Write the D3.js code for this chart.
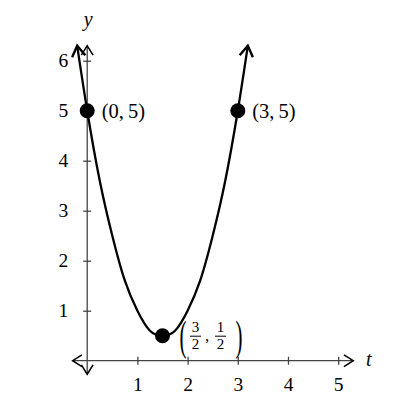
<!DOCTYPE html>
<html lang="en">
<head>
  <meta charset="UTF-8">
  <title>Parabola</title>
  <script src="https://d3js.org/d3.v7.min.js"></script>
  <style>
      body { margin: 0; padding: 0; background: #fff; overflow: hidden; }
      svg { display: block; }
      text { font-family: 'Liberation Serif', 'Times New Roman', serif; fill: #000; }
  </style>
</head>
<body>
  <svg width="401" height="408"></svg>
  <script>
      // Values
      const tTicks = [1, 2, 3, 4, 5];
      const yTicks = [1, 2, 3, 4, 5, 6];
      const curveT = [-0.2, 0, 0.25, 0.5, 0.75, 1, 1.25, 1.5, 1.75, 2, 2.25, 2.5, 2.75, 3, 3.2];
      const curveY = [6.3, 5, 3.6, 2.5, 1.6, 1, 0.6, 0.5, 0.6, 1, 1.6, 2.5, 3.6, 5, 6.3];
      const pointT = [0, 3, 1.5];
      const pointY = [5, 5, 0.5];
      const pointLabels = ["(0,\u20095)", "(3,\u20095)", null];

      const svg = d3.select("svg");
      const x = d3.scaleLinear().domain([0, 5]).range([87.2, 338.2]);
      const y = d3.scaleLinear().domain([0, 6]).range([360.7, 60.7]);

      const defs = svg.append("defs");
      function chevron(id, w, size) {
          defs.append("marker")
              .attr("id", id)
              .attr("viewBox", "-10 -6 12 12")
              .attr("refX", 0).attr("refY", 0)
              .attr("markerWidth", size).attr("markerHeight", size)
              .attr("markerUnits", "userSpaceOnUse")
              .attr("orient", "auto-start-reverse")
              .append("path")
              .attr("d", "M-8,-5 L0,0 L-8,5")
              .attr("fill", "none")
              .attr("stroke", "#000")
              .attr("stroke-width", w)
              .attr("stroke-linejoin", "miter");
      }
      chevron("axisArrow", 1.3, 14);
      chevron("curveArrow", 1.8, 16);

      // axes lines
      svg.append("line")
          .attr("x1", x(-0.29)).attr("x2", x(5.3))
          .attr("y1", y(0)).attr("y2", y(0))
          .attr("stroke", "#444").attr("stroke-width", 1.3)
          .attr("marker-start", "url(#axisArrow)")
          .attr("marker-end", "url(#axisArrow)");
      svg.append("line")
          .attr("x1", x(0)).attr("x2", x(0))
          .attr("y1", y(-0.27)).attr("y2", y(6.3))
          .attr("stroke", "#444").attr("stroke-width", 1.3)
          .attr("marker-start", "url(#axisArrow)")
          .attr("marker-end", "url(#axisArrow)");

      const xAxis = svg.append("g")
          .attr("transform", `translate(0,${y(0)})`)
          .call(d3.axisBottom(x).tickValues(tTicks).tickSize(4).tickPadding(12).tickFormat(d3.format("d")));
      const yAxis = svg.append("g")
          .attr("transform", `translate(${x(0)},0)`)
          .call(d3.axisLeft(y).tickValues(yTicks).tickSize(4).tickPadding(15).tickFormat(d3.format("d")));
      [xAxis, yAxis].forEach(g => {
          g.attr("font-family", null).attr("font-size", null);
          g.select(".domain").remove();
          g.selectAll(".tick line").attr("stroke", "#444").attr("stroke-width", 1.3);
          g.selectAll(".tick text")
              .style("font-family", "'Liberation Serif', serif")
              .style("font-size", "19.5px")
              .attr("fill", "#000");
      });
      xAxis.selectAll(".tick line").attr("y1", -4).attr("y2", 4);
      yAxis.selectAll(".tick line").attr("x1", -4).attr("x2", 4);

      // axis titles
      svg.append("text")
          .attr("x", x(0) + 1).attr("y", 26)
          .attr("text-anchor", "middle")
          .style("font-size", "20px").style("font-style", "italic")
          .text("y");
      svg.append("text")
          .attr("x", 366).attr("y", 366)
          .style("font-size", "20px").style("font-style", "italic")
          .text("t");

      // curve
      const line = d3.line()
          .x((d, i) => x(curveT[i]))
          .y((d, i) => y(curveY[i]))
          .curve(d3.curveNatural);
      svg.append("path")
          .datum(curveT)
          .attr("d", line)
          .attr("fill", "none")
          .attr("stroke", "#000")
          .attr("stroke-width", 2.3)
          .attr("marker-start", "url(#curveArrow)")
          .attr("marker-end", "url(#curveArrow)");

      // points
      svg.selectAll("circle.pt")
          .data(pointT)
          .enter().append("circle")
          .attr("class", "pt")
          .attr("cx", d => x(d))
          .attr("cy", (d, i) => y(pointY[i]))
          .attr("r", 7.5)
          .attr("fill", "#000");

      svg.selectAll("text.pl")
          .data(pointLabels.filter(d => d))
          .enter().append("text")
          .attr("class", "pl")
          .attr("x", (d, i) => x(pointT[i]) + 14.5)
          .attr("y", (d, i) => y(pointY[i]) + 7)
          .style("font-size", "20.5px")
          .text(d => d);

      // vertex label (3/2, 1/2)
      const vx = x(pointT[2]) + 14;
      const vy = y(pointY[2]);
      const frac = svg.append("g").attr("transform", `translate(${vx},${vy})`);
      frac.append("text")
          .attr("transform", "translate(3,14) scale(0.5,1)")
          .style("font-size", "42px")
          .text("(");
      frac.append("text")
          .attr("transform", "translate(59,14) scale(0.5,1)")
          .style("font-size", "42px")
          .text(")");
      [["3", "2", 19], ["1", "2", 44]].forEach(([n, dn, cx]) => {
          frac.append("text").attr("x", cx).attr("y", -3.3)
              .attr("text-anchor", "middle").style("font-size", "15px").text(n);
          frac.append("line")
              .attr("x1", cx - 5.5).attr("x2", cx + 5.5)
              .attr("y1", 0.5).attr("y2", 0.5)
              .attr("stroke", "#000").attr("stroke-width", 1);
          frac.append("text").attr("x", cx).attr("y", 13.5)
              .attr("text-anchor", "middle").style("font-size", "15px").text(dn);
      });
      frac.append("text").attr("x", 28.5).attr("y", 5)
          .style("font-size", "17px").text(",");
  </script>
</body>
</html>
